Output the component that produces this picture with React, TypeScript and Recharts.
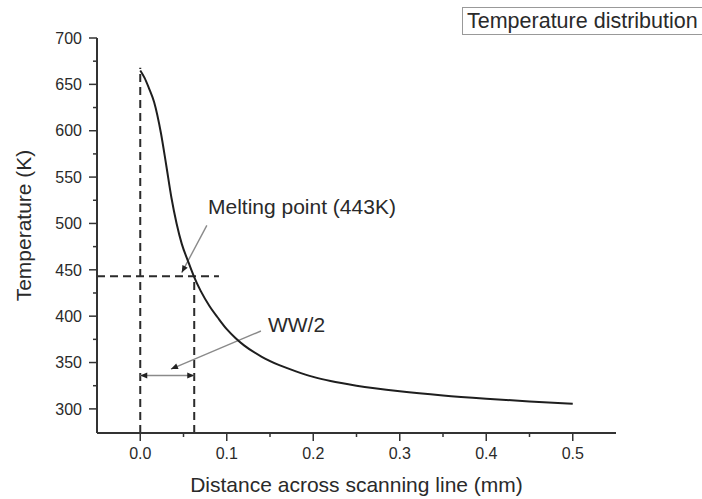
import { LineChart, Line, XAxis, YAxis, ReferenceLine, ReferenceDot } from "recharts";

// distance across scanning line (mm) and temperature (K)
const distance = [0, 0.005, 0.01, 0.016, 0.024, 0.03, 0.036, 0.042, 0.048, 0.055, 0.062, 0.07, 0.08, 0.09, 0.1, 0.11, 0.12, 0.14, 0.16, 0.18, 0.2, 0.22, 0.25, 0.3, 0.35, 0.4, 0.45, 0.5];
const temperature = [665, 657, 646, 631, 597, 563, 528, 500, 478, 460, 443, 427, 411, 398, 386, 376.5, 368.5, 356.5, 347.5, 340.5, 334.5, 330, 325, 319, 314.5, 311, 308, 305.5];

const xMajorTicks = [0, 0.1, 0.2, 0.3, 0.4, 0.5];
const xMinorTicks = [0.05, 0.15, 0.25, 0.35, 0.45];
const yMajorTicks = [300, 350, 400, 450, 500, 550, 600, 650, 700];
const yMinorTicks = [325, 375, 425, 475, 525, 575, 625, 675];

const xDomain = [-0.05, 0.55];
const yDomain = [274, 700];

const meltingPoint = 443;
const halfWidth = 0.0624;
const peakTemp = 668;
const wwArrowTemp = 336;

// annotation anchors in data units
const meltLabel = { x: 0.0783, y: 510 };
const meltArrow = [{ x: 0.077, y: 498 }, { x: 0.048, y: 447 }];
const wwLabel = { x: 0.1476, y: 383 };
const wwArrow = [{ x: 0.1395, y: 384 }, { x: 0.0355, y: 343 }];

const data = distance.map((x, i) => ({ x, t: temperature[i] }));
const xTicks = [...xMajorTicks, ...xMinorTicks].sort((a, b) => a - b);
const yTicks = [...yMajorTicks, ...yMinorTicks].sort((a, b) => a - b);

const FONT = "Arial, 'Liberation Sans', Helvetica, sans-serif";
const INK = "#2a2a2a";
const AXIS = "#333";
const GREY = "#8a8a8a";

function XTick(props: any) {
  const { x, y, payload } = props;
  const major = xMajorTicks.includes(payload.value);
  return (
    <g>
      <line x1={x} y1={y} x2={x} y2={y + (major ? 8 : 4)} stroke={AXIS} strokeWidth={1.5} />
      {major && (
        <text x={x} y={y + 15} dy="0.71em" textAnchor="middle" fontSize={16} fill={INK} fontFamily={FONT}>
          {payload.value.toFixed(1)}
        </text>
      )}
    </g>
  );
}

function YTick(props: any) {
  const { x, y, payload } = props;
  const major = yMajorTicks.includes(payload.value);
  return (
    <g>
      <line x1={x} y1={y} x2={x - (major ? 8 : 4)} y2={y} stroke={AXIS} strokeWidth={1.5} />
      {major && (
        <text x={x - 15} y={y} dy="0.36em" textAnchor="end" fontSize={16} fill={INK} fontFamily={FONT}>
          {payload.value}
        </text>
      )}
    </g>
  );
}

function head(x1: number, y1: number, x2: number, y2: number, len = 7, w = 3) {
  const d = Math.hypot(x2 - x1, y2 - y1) || 1;
  const ux = (x2 - x1) / d;
  const uy = (y2 - y1) / d;
  const bx = x2 - ux * len;
  const by = y2 - uy * len;
  return `${x2},${y2} ${bx - uy * w},${by + ux * w} ${bx + uy * w},${by - ux * w}`;
}

const arrow = (both: boolean) => (p: any) => (
  <g>
    <line x1={p.x1} y1={p.y1} x2={p.x2} y2={p.y2} stroke={GREY} strokeWidth={1.4} />
    <polygon points={head(p.x1, p.y1, p.x2, p.y2)} fill="#222" />
    {both && <polygon points={head(p.x2, p.y2, p.x1, p.y1)} fill="#222" />}
  </g>
);

const textAt = (value: string) => (p: any) => (
  <text x={p.cx} y={p.cy} fontSize={21} fill={INK} fontFamily={FONT}>
    {value}
  </text>
);

const dashed = { stroke: "#2b2b2b", strokeWidth: 2, strokeDasharray: "8 5" };

export default function App() {
  return (
    <div style={{ position: "absolute", left: 0, top: 0, width: 702, height: 499, background: "#fff" }}>
      <LineChart width={702} height={499} data={data} margin={{ top: 38, right: 86, bottom: 0, left: 0 }}>
        <XAxis
          type="number"
          dataKey="x"
          domain={xDomain}
          ticks={xTicks}
          interval={0}
          allowDataOverflow
          height={66}
          tickSize={0}
          tickMargin={0}
          tickLine={false}
          axisLine={{ stroke: AXIS, strokeWidth: 2 }}
          tick={<XTick />}
          label={{
            content: ({ viewBox }: any) => (
              <text x={viewBox.x + viewBox.width / 2} y={viewBox.y + 59} textAnchor="middle" fontSize={21} fill={INK} fontFamily={FONT}>
                Distance across scanning line (mm)
              </text>
            ),
          }}
        />
        <YAxis
          type="number"
          domain={yDomain}
          ticks={yTicks}
          interval={0}
          allowDataOverflow
          width={97}
          tickSize={0}
          tickMargin={0}
          tickLine={false}
          axisLine={{ stroke: AXIS, strokeWidth: 2 }}
          tick={<YTick />}
          label={{
            content: ({ viewBox }: any) => {
              const cx = viewBox.x + 23;
              const cy = viewBox.y + viewBox.height / 2 - 10;
              return (
                <text x={cx} y={cy} transform={`rotate(-90 ${cx} ${cy})`} textAnchor="middle" dominantBaseline="central" fontSize={21} fill={INK} fontFamily={FONT}>
                  Temperature (K)
                </text>
              );
            },
          }}
        />
        <ReferenceLine segment={[{ x: 0, y: yDomain[0] }, { x: 0, y: peakTemp }]} {...dashed} />
        <ReferenceLine segment={[{ x: halfWidth, y: yDomain[0] }, { x: halfWidth, y: meltingPoint }]} {...dashed} />
        <ReferenceLine segment={[{ x: xDomain[0], y: meltingPoint }, { x: 0.091, y: meltingPoint }]} {...dashed} />
        <ReferenceLine segment={[{ x: 0, y: wwArrowTemp }, { x: halfWidth, y: wwArrowTemp }]} shape={arrow(true)} />
        <ReferenceLine segment={meltArrow} shape={arrow(false)} />
        <ReferenceLine segment={wwArrow} shape={arrow(false)} />
        <ReferenceDot x={meltLabel.x} y={meltLabel.y} r={0} shape={textAt("Melting point (443K)")} />
        <ReferenceDot x={wwLabel.x} y={wwLabel.y} r={0} shape={textAt("WW/2")} />
        <Line type="monotone" dataKey="t" stroke="#1e1e1e" strokeWidth={2} dot={false} isAnimationActive={false} />
      </LineChart>
      <div
        style={{
          position: "absolute",
          left: 462,
          top: 7,
          width: 236,
          height: 26,
          border: "1px solid #999",
          fontFamily: FONT,
          fontSize: 21.5,
          lineHeight: "26px",
          color: INK,
          paddingLeft: 4,
          boxSizing: "content-box",
          whiteSpace: "nowrap",
        }}
      >
        Temperature distribution
      </div>
    </div>
  );
}
